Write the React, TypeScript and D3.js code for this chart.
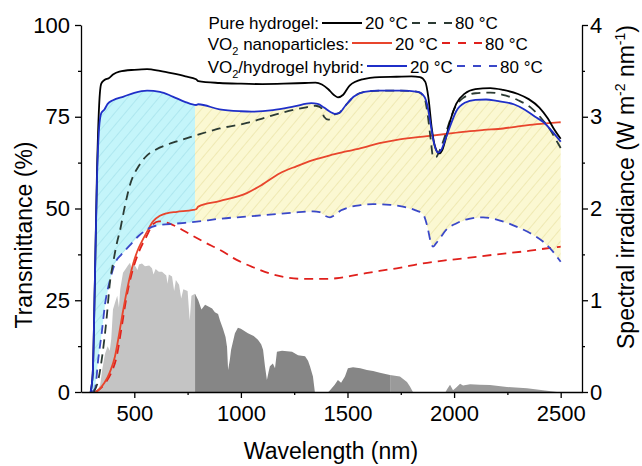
import React, { useRef, useEffect } from "react";
import * as d3 from "d3";

// tick values
const xTicks = [500, 1000, 1500, 2000, 2500];
const xMinor = [750, 1250, 1750, 2250];
const yTicks = [0, 25, 50, 75, 100];
const yMinor = [12.5, 37.5, 62.5, 87.5];
const y2Ticks = [0, 1, 2, 3, 4];
const y2Minor = [0.5, 1.5, 2.5, 3.5];

// [wavelength (nm), transmittance (%)]
const pureGel20: [number, number][] = [
  [295, 0], [305, 5], [315, 30], [325, 60], [335, 78], [345, 84], [360, 85], [380, 85.5],
  [400, 86.5], [430, 87.3], [500, 87.8], [560, 88], [620, 87.5], [680, 86.8], [740, 86],
  [790, 85.2], [800, 84.7], [900, 84.2], [1000, 84], [1100, 83.9], [1200, 84], [1300, 84.2],
  [1350, 84.3], [1380, 83.8], [1410, 82.5], [1435, 81], [1455, 80.3], [1480, 81], [1510, 83.5],
  [1570, 85.2], [1650, 85.8], [1730, 85.9], [1800, 86], [1840, 85.8], [1865, 84.5], [1880, 80],
  [1895, 72], [1910, 67], [1930, 65], [1945, 66], [1965, 70], [1985, 74.5], [2010, 78.5],
  [2050, 81.3], [2100, 82.5], [2170, 82.8], [2230, 82.3], [2300, 81.2], [2350, 79.8],
  [2400, 77.5], [2440, 74.5], [2470, 71.5], [2500, 69],
];

const pureGel80: [number, number][] = [
  [310, 0], [330, 3], [350, 10], [370, 20], [386, 30], [400, 35], [420, 41], [433, 44],
  [450, 49], [480, 56.5], [520, 61.5], [560, 64.5], [600, 66], [650, 67.3], [700, 68.3],
  [793, 70], [900, 71.8], [1028, 73.3], [1100, 74.5], [1200, 76.2], [1300, 77.5], [1350, 78],
  [1375, 77.5], [1390, 75], [1410, 74.2], [1440, 75.6], [1460, 76], [1490, 78], [1530, 80.5],
  [1580, 81.8], [1650, 82.1], [1750, 82.1], [1830, 81.8], [1860, 80.3], [1875, 76], [1890, 69],
  [1902, 64], [1915, 64], [1930, 65.5], [1950, 68.5], [1975, 73], [2000, 77], [2040, 80],
  [2100, 81.4], [2170, 81.6], [2240, 80.8], [2300, 79.5], [2360, 77.5], [2410, 74.5],
  [2450, 71.5], [2480, 68.5], [2500, 66.5],
];

const vo2Np20: [number, number][] = [
  [318, 0], [331, 0.5], [360, 2.5], [386, 5.5], [409, 9.6], [425, 14.5], [447, 22], [472, 29.5],
  [495, 35], [515, 38.5], [535, 41], [558, 43.5], [588, 46.5], [620, 48], [652, 48.7],
  [700, 49.1], [776, 49.6], [790, 49.8], [800, 50.5], [900, 52], [1028, 54.2], [1100, 56.5],
  [1183, 59.6], [1260, 61.5], [1338, 63.2], [1418, 64.5], [1500, 65.6], [1573, 66.6],
  [1650, 67.8], [1732, 68.7], [1810, 69.3], [1887, 69.8], [1960, 70.3], [2042, 70.9],
  [2140, 71.4], [2230, 71.8], [2300, 72.4], [2356, 72.8], [2430, 73.2], [2500, 73.5],
];

const vo2Np80: [number, number][] = [
  [320, 0], [363, 2.4], [390, 5], [417, 9.6], [441, 17.8], [464, 26], [488, 32.3], [519, 37.8],
  [558, 42.5], [590, 45.8], [615, 46.5], [650, 46.2], [700, 45], [761, 43], [830, 40.8],
  [902, 38.7], [980, 36], [1057, 34], [1140, 32.2], [1216, 31.2], [1300, 30.8], [1400, 30.8],
  [1449, 31], [1550, 32], [1650, 33], [1731, 33.7], [1850, 35], [1950, 35.8], [2042, 36.4],
  [2200, 37.5], [2356, 38.5], [2430, 39.1], [2500, 39.6],
];

const hybrid20: [number, number][] = [
  [295, 0], [305, 5], [315, 30], [325, 58], [335, 72], [345, 76], [360, 77], [375, 78.5],
  [400, 79.5], [450, 80.5], [500, 81.5], [560, 82.1], [620, 81.8], [680, 80.5], [740, 79],
  [790, 78.2], [800, 78.4], [900, 77], [1000, 76.5], [1050, 76.4], [1150, 76.8], [1250, 77.8],
  [1330, 78.7], [1360, 78.5], [1390, 77.5], [1420, 76.3], [1440, 75.8], [1460, 76], [1490, 78],
  [1530, 80.5], [1580, 81.8], [1650, 82.1], [1750, 82.1], [1830, 81.8], [1860, 80.5],
  [1875, 78], [1890, 73], [1905, 68], [1925, 65.2], [1940, 66], [1960, 69], [1985, 73],
  [2010, 76.5], [2050, 78.8], [2100, 79.6], [2150, 79.7], [2200, 79.3], [2280, 78.4],
  [2330, 77], [2380, 75], [2420, 73.5], [2460, 71], [2500, 68.2],
];

const hybrid80: [number, number][] = [
  [300, 0], [316, 1], [331, 9], [347, 16], [363, 24], [386, 30.5], [409, 35], [440, 37.5],
  [480, 40], [520, 42.5], [560, 44.3], [600, 45.3], [700, 45.9], [793, 46.4], [900, 47.2],
  [1028, 47.8], [1150, 48.4], [1250, 48.9], [1338, 49.2], [1370, 49], [1395, 48], [1418, 47.6],
  [1440, 48.2], [1470, 49.5], [1500, 50.2], [1560, 50.9], [1620, 51.2], [1700, 51],
  [1760, 50.5], [1820, 49.5], [1854, 48.5], [1875, 45], [1890, 41], [1901, 39.6], [1915, 40.5],
  [1935, 42], [1960, 44], [2012, 46], [2070, 47.2], [2136, 47.6], [2200, 47], [2295, 45],
  [2360, 43.2], [2417, 41], [2460, 38.5], [2500, 35.5],
];

// AM1.5 solar spectrum, [wavelength (nm), W m-2 nm-1]
const solar: [number, number][] = [
  [300, 0], [330, 0.03], [340, 0.08], [350, 0.25], [363, 0.42], [375, 0.5], [385, 0.45],
  [392, 0.58], [400, 0.9], [409, 0.97], [420, 1.05], [428, 0.92], [434, 1.12], [447, 1.3],
  [456, 1.33], [470, 1.38], [480, 1.41], [488, 1.34], [494, 1.4], [505, 1.37], [515, 1.33],
  [522, 1.39], [536, 1.4], [550, 1.37], [570, 1.38], [583, 1.35], [590, 1.28], [600, 1.34],
  [615, 1.31], [630, 1.31], [650, 1.27], [656, 1.18], [662, 1.28], [677, 1.26], [687, 1.1],
  [695, 1.22], [710, 1.17], [720, 1.02], [730, 1.12], [750, 1.1], [760, 0.78], [768, 1.05],
  [785, 1.07], [800, 1.0], [815, 0.9], [832, 0.95], [850, 0.93], [865, 0.91], [878, 0.87],
  [893, 0.85], [902, 0.78], [916, 0.69], [928, 0.6], [935, 0.49], [940, 0.24], [948, 0.35],
  [954, 0.46], [972, 0.64], [986, 0.7], [1000, 0.69], [1033, 0.64], [1060, 0.61], [1080, 0.57],
  [1095, 0.52], [1104, 0.46], [1113, 0.28], [1122, 0.13], [1130, 0.22], [1136, 0.28],
  [1150, 0.31], [1160, 0.26], [1169, 0.44], [1193, 0.45], [1240, 0.44], [1268, 0.4],
  [1301, 0.39], [1315, 0.34], [1324, 0.28], [1338, 0.17], [1347, 0], [1410, 0], [1418, 0.02],
  [1440, 0.08], [1455, 0.13], [1470, 0.1], [1488, 0.17], [1502, 0.26], [1526, 0.27],
  [1560, 0.26], [1591, 0.24], [1620, 0.23], [1652, 0.21], [1699, 0.185], [1746, 0.17],
  [1779, 0.11], [1793, 0.06], [1807, 0], [1960, 0], [1967, 0.03], [1981, 0.08], [1995, 0.02],
  [2010, 0.05], [2028, 0.09], [2042, 0.07], [2075, 0.085], [2120, 0.08], [2168, 0.075],
  [2248, 0.055], [2342, 0.04], [2417, 0.02], [2483, 0],
];

const legendRows = [
  { label: "Pure hydrogel:", sub: false, x0: 322, solid: "#000000", dashed: "#2b3a33" },
  { label: "nanoparticles:", sub: true, x0: 352, solid: "#e8452c", dashed: "#e0201c" },
  { label: "/hydrogel hybrid:", sub: true, x0: 367, solid: "#1f2fc8", dashed: "#3a48c8" },
];

const App = () => {
  const svgRef = useRef<SVGSVGElement>(null);

  useEffect(() => {
    const width = 642;
    const height = 466;
    const font = "Arial, 'Liberation Sans', sans-serif";
    const split = 785;
    const fmt = d3.format("d");

    const x = d3.scaleLinear().domain([250, 2600]).range([81, 582]);
    const y = d3.scaleLinear().domain([0, 100]).range([392, 25]);
    const y2 = d3.scaleLinear().domain([0, 4]).range([392, 25]);

    const svg = d3.select(svgRef.current);
    svg.selectAll("*").remove();
    svg.attr("width", width).attr("height", height);

    const defs = svg.append("defs");

    const addHatch = (id: string, bg: string, fg: string) => {
      const p = defs
        .append("pattern")
        .attr("id", id)
        .attr("patternUnits", "userSpaceOnUse")
        .attr("width", 8)
        .attr("height", 8)
        .attr("patternTransform", "rotate(40)");
      p.append("rect").attr("width", 8).attr("height", 8).attr("fill", bg);
      p.append("line")
        .attr("x1", 0).attr("y1", 0).attr("x2", 0).attr("y2", 8)
        .attr("stroke", fg).attr("stroke-width", 1.2);
    };
    addHatch("hatchCyan", "#c4f5fa", "#9fdfe8");
    addHatch("hatchYellow", "#fbf8d2", "#e8df9e");

    const addClip = (id: string, a: number, b: number) => {
      defs.append("clipPath").attr("id", id)
        .append("rect")
        .attr("x", x(a)).attr("y", 0)
        .attr("width", x(b) - x(a)).attr("height", 392);
    };
    addClip("clipVis", 250, split);
    addClip("clipIr", split, 1700);
    addClip("clipFar", 1700, 2600);
    addClip("clipIrAll", split, 2600);

    // solar spectrum
    const solarArea = d3.area<[number, number]>()
      .x(d => x(d[0]))
      .y0(y2(0))
      .y1(d => y2(d[1]));

    [["clipVis", "#c4c4c4"], ["clipIr", "#868686"], ["clipFar", "#9a9a9a"]].forEach(([clip, col]) => {
      svg.append("path")
        .attr("d", solarArea(solar))
        .attr("fill", col)
        .attr("clip-path", `url(#${clip})`);
    });

    // hatched region between the hybrid curves
    const line = d3.line<[number, number]>()
      .x(d => x(d[0]))
      .y(d => y(d[1]))
      .curve(d3.curveMonotoneX);

    const bandPath = d3.line<[number, number]>().x(d => x(d[0])).y(d => y(d[1]));
    const poly = bandPath([...hybrid20, ...hybrid80.slice().reverse()]) + "Z";

    svg.append("path").attr("d", poly).attr("fill", "url(#hatchCyan)").attr("clip-path", "url(#clipVis)");
    svg.append("path").attr("d", poly).attr("fill", "url(#hatchYellow)").attr("clip-path", "url(#clipIrAll)");

    // curves
    const curves: [[number, number][], string, boolean][] = [
      [vo2Np80, "#e0201c", true],
      [vo2Np20, "#e8452c", false],
      [hybrid80, "#3a48c8", true],
      [pureGel80, "#2b3a33", true],
      [pureGel20, "#000000", false],
      [hybrid20, "#1f2fc8", false],
    ];
    curves.forEach(([data, col, dashed]) => {
      svg.append("path")
        .attr("d", line(data))
        .attr("fill", "none")
        .attr("stroke", col)
        .attr("stroke-width", 1.8)
        .attr("stroke-dasharray", dashed ? "9,6" : null);
    });

    // axes
    const styleAxis = (g: any) => {
      g.selectAll("path").attr("stroke", "#000").attr("stroke-width", 1.3);
      g.selectAll("line").attr("stroke", "#000").attr("stroke-width", 1.3);
      g.selectAll("text").attr("font-family", font).attr("font-size", 22).attr("fill", "#000");
    };

    const gx = svg.append("g").attr("transform", "translate(0,392)")
      .call(d3.axisBottom(x).tickValues(xTicks).tickFormat(fmt).tickSize(6).tickSizeOuter(0).tickPadding(7));
    styleAxis(gx);
    const gxm = svg.append("g").attr("transform", "translate(0,392)")
      .call(d3.axisBottom(x).tickValues(xMinor).tickSize(3).tickFormat(() => ""));
    styleAxis(gxm);
    gxm.select(".domain").remove();

    const gy = svg.append("g").attr("transform", "translate(81,0)")
      .call(d3.axisLeft(y).tickValues(yTicks).tickFormat(fmt).tickSize(6).tickSizeOuter(0).tickPadding(5));
    styleAxis(gy);
    const gym = svg.append("g").attr("transform", "translate(81,0)")
      .call(d3.axisLeft(y).tickValues(yMinor).tickSize(3).tickFormat(() => ""));
    styleAxis(gym);
    gym.select(".domain").remove();

    const gy2 = svg.append("g").attr("transform", "translate(582,0)")
      .call(d3.axisRight(y2).tickValues(y2Ticks).tickFormat(fmt).tickSize(6).tickSizeOuter(0).tickPadding(2));
    styleAxis(gy2);
    const gy2m = svg.append("g").attr("transform", "translate(582,0)")
      .call(d3.axisRight(y2).tickValues(y2Minor).tickSize(3).tickFormat(() => ""));
    styleAxis(gy2m);
    gy2m.select(".domain").remove();

    // titles
    svg.append("text")
      .attr("x", 331).attr("y", 459)
      .attr("text-anchor", "middle")
      .attr("font-family", font).attr("font-size", 23)
      .text("Wavelength (nm)");

    svg.append("text")
      .attr("transform", "translate(32,235) rotate(-90)")
      .attr("text-anchor", "middle")
      .attr("font-family", font).attr("font-size", 23)
      .text("Transmittance (%)");

    const t2 = svg.append("text")
      .attr("transform", "translate(634,187) rotate(-90)")
      .attr("text-anchor", "middle")
      .attr("font-family", font).attr("font-size", 23);
    t2.append("tspan").text("Spectral irradiance (W m");
    t2.append("tspan").attr("dy", -9).attr("font-size", 14).text("-2");
    t2.append("tspan").attr("dy", 9).text(" nm");
    t2.append("tspan").attr("dy", -9).attr("font-size", 14).text("-1");
    t2.append("tspan").attr("dy", 9).text(")");

    // legend
    const baselines = [29, 49.5, 73];
    const lineYs = [23, 43, 66];
    legendRows.forEach((r, i) => {
      const g = svg.append("g")
        .attr("font-family", font)
        .attr("font-size", 17)
        .attr("fill", "#000");
      const lbl = g.append("text")
        .attr("x", r.x0 - 3).attr("y", baselines[i])
        .attr("text-anchor", "end");
      if (r.sub) {
        lbl.append("tspan").text("VO");
        lbl.append("tspan").attr("dy", 5).attr("font-size", 11).text("2");
        lbl.append("tspan").attr("dy", -5).text((i === 1 ? " " : "") + r.label);
      } else {
        lbl.text(r.label);
      }
      g.append("line")
        .attr("x1", r.x0).attr("x2", r.x0 + 40)
        .attr("y1", lineYs[i]).attr("y2", lineYs[i])
        .attr("stroke", r.solid).attr("stroke-width", 2);
      g.append("text").attr("x", r.x0 + 43).attr("y", baselines[i]).text("20 °C");
      g.append("line")
        .attr("x1", r.x0 + 90).attr("x2", r.x0 + 130)
        .attr("y1", lineYs[i]).attr("y2", lineYs[i])
        .attr("stroke", r.dashed).attr("stroke-width", 2)
        .attr("stroke-dasharray", "8,8");
      g.append("text").attr("x", r.x0 + 133).attr("y", baselines[i]).text("80 °C");
    });
  }, []);

  return (
    <svg ref={svgRef} width={642} height={466} style={{ position: "absolute", left: 0, top: 0 }} />
  );
};

export default App;
